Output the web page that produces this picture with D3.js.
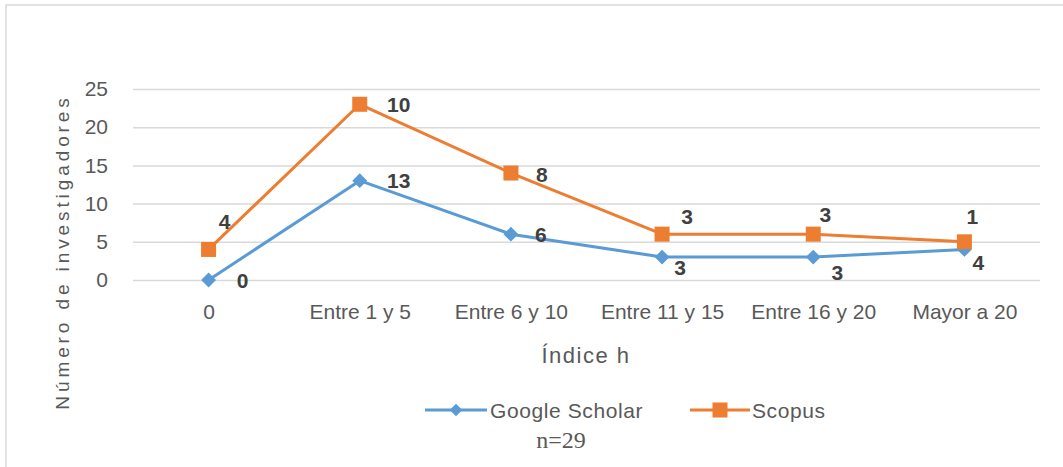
<!DOCTYPE html>
<html>
<head>
<meta charset="utf-8">
<script src="https://cdn.jsdelivr.net/npm/d3@7"></script>
<style>
  html, body { margin: 0; padding: 0; background: #fff; }
  svg { display: block; }
  text { font-family: "Liberation Sans", Arial, sans-serif; }
</style>
</head>
<body>
<svg id="chart" width="1063" height="467"></svg>
<script>
// ---- Data ----
const categories = ["0", "Entre 1 y 5", "Entre 6 y 10", "Entre 11 y 15", "Entre 16 y 20", "Mayor a 20"];
const googleScholar = [0, 13, 6, 3, 3, 4];
const scopus = [4, 10, 8, 3, 3, 1];
const yTicks = [0, 5, 10, 15, 20, 25];
const seriesNames = ["Google Scholar", "Scopus"];
const yTitle = "Número de investigadores";
const xTitle = "Índice h";
const note = "n=29";

// ---- Layout ----
const W = 1063, H = 467;
const plot = { left: 133, right: 1040, top: 89, bottom: 280 };
const colors = ["#5B9BD5", "#ED7D31"];
const textColor = "#595959";
const labelColor = "#404040";

const svg = d3.select("#chart");

// frame
svg.append("rect").attr("x", 6).attr("y", 5).attr("width", W + 10).attr("height", H + 10)
  .attr("fill", "#fff").attr("stroke", "#d9d9d9").attr("stroke-width", 1.5);

const x = d3.scalePoint().domain(categories).range([plot.left, plot.right]).padding(0.5);
const y = d3.scaleLinear().domain([0, 25]).range([plot.bottom, plot.top]);

// stacked values (stacked line chart)
const stackData = categories.map((c, i) => ({ cat: c, gs: googleScholar[i], sc: scopus[i] }));
const stack = d3.stack().keys(["gs", "sc"])(stackData);

// grid lines + y tick labels
const yAxis = d3.axisLeft(y).tickValues(yTicks).tickSize(-(plot.right - plot.left)).tickPadding(25);
const gy = svg.append("g").attr("transform", `translate(${plot.left},0)`).call(yAxis);
gy.select(".domain").remove();
gy.selectAll(".tick line").attr("stroke", "#d9d9d9").attr("stroke-width", 1.5);
gy.selectAll(".tick text").attr("fill", textColor).style("font-size", "21px")
  .style("font-family", "'Liberation Sans', sans-serif");

// x axis labels
const xAxis = d3.axisBottom(x).tickSize(0).tickPadding(24);
const gx = svg.append("g").attr("transform", `translate(0,${plot.bottom})`).call(xAxis);
gx.select(".domain").remove();
gx.selectAll(".tick text").attr("fill", textColor).style("font-size", "21px")
  .style("font-family", "'Liberation Sans', sans-serif");

// lines
const line = d3.line().x(d => x(d.data.cat)).y(d => y(d[1]));
stack.forEach((s, k) => {
  svg.append("path").datum(s).attr("d", line).attr("fill", "none")
    .attr("stroke", colors[k]).attr("stroke-width", 3).attr("stroke-linejoin", "round");
});

// markers
svg.append("g").selectAll("path").data(stack[0]).join("path")
  .attr("d", d3.symbol().type(d3.symbolSquare).size(110))
  .attr("transform", d => `translate(${x(d.data.cat)},${y(d[1])}) rotate(45)`)
  .attr("fill", colors[0]);
svg.append("g").selectAll("rect").data(stack[1]).join("rect")
  .attr("x", d => x(d.data.cat) - 7.5).attr("y", d => y(d[1]) - 7.5)
  .attr("width", 15).attr("height", 15).attr("fill", colors[1]);

// data label offsets (placement only)
const gsOff = [[34, 0], [39, 0], [30, 0], [18, 10], [24, 15], [14, 13]];
const scOff = [[16, -28], [39, 0], [31, 1], [25, -18], [12, -20], [8, -25]];
const labelRaw = [googleScholar, scopus];
[gsOff, scOff].forEach((off, k) => {
  svg.append("g").selectAll("text").data(stack[k]).join("text")
    .attr("x", (d, i) => x(d.data.cat) + off[i][0])
    .attr("y", (d, i) => y(d[1]) + off[i][1])
    .attr("text-anchor", "middle").attr("dominant-baseline", "central")
    .attr("fill", labelColor).style("font-size", "21px").style("font-weight", "bold")
    .text((d, i) => labelRaw[k][i]);
});

// axis titles
svg.append("text").attr("transform", "translate(62,252) rotate(-90)")
  .attr("text-anchor", "middle").attr("dominant-baseline", "central")
  .attr("fill", textColor).style("font-size", "19px").style("letter-spacing", "3.9px")
  .text(yTitle);
svg.append("text").attr("x", 586).attr("y", 355)
  .attr("text-anchor", "middle").attr("dominant-baseline", "central")
  .attr("fill", textColor).style("font-size", "22px").style("letter-spacing", "1.5px").text(xTitle);

// legend
const legend = [{ x1: 425, x2: 487, tx: 490 }, { x1: 690, x2: 750, tx: 752 }];
legend.forEach((l, k) => {
  const g = svg.append("g");
  g.append("line").attr("x1", l.x1).attr("x2", l.x2).attr("y1", 410).attr("y2", 410)
    .attr("stroke", colors[k]).attr("stroke-width", 3);
  const cx = (l.x1 + l.x2) / 2;
  if (k === 0) {
    g.append("path").attr("d", d3.symbol().type(d3.symbolSquare).size(80)())
      .attr("transform", `translate(${cx},410) rotate(45)`).attr("fill", colors[k]);
  } else {
    g.append("rect").attr("x", cx - 7.5).attr("y", 402.5).attr("width", 15).attr("height", 15).attr("fill", colors[k]);
  }
  g.append("text").attr("x", l.tx).attr("y", 410).attr("dominant-baseline", "central")
    .attr("fill", textColor).style("font-size", "21px").style("letter-spacing", "0.6px").text(seriesNames[k]);
});
svg.append("text").attr("x", 561).attr("y", 440).attr("text-anchor", "middle")
  .attr("dominant-baseline", "central").attr("fill", textColor)
  .style("font-family", "'Liberation Serif', serif").style("font-size", "24px").text(note);
</script>
</body>
</html>
